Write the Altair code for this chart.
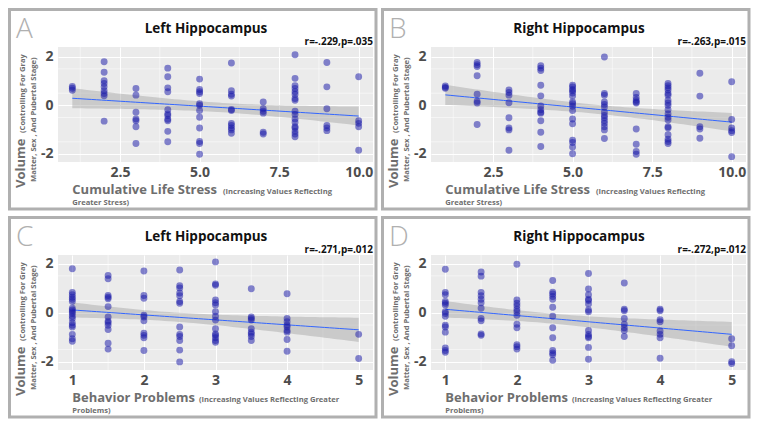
import altair as alt
import numpy as np
import pandas as pd

# ---------------- data ----------------
STRESS_X = [1, 2, 3, 4, 5, 6, 7, 8, 9, 10]
BEHAV_X = [1, 1.5, 2, 2.5, 3, 3.5, 4, 5]

A_VALUES = [
    [0.78, 0.70, 0.62],
    [1.79, 1.36, 1.01, 0.90, 0.76, 0.60, 0.49, 0.39, -0.65],
    [0.69, 0.42, -0.28, -0.56, -0.63, -0.88, -1.57],
    [1.53, 1.18, 0.72, 0.56, -0.18, -0.35, -0.42, -0.57, -0.63, -1.07, -1.50],
    [1.08, 0.65, 0.56, 0.49, 0.07, 0.00, -0.21, -0.49, -0.93, -1.49, -1.57, -2.01],
    [1.74, 0.60, 0.46, 0.38, -0.17, -0.21, -0.74, -0.83, -0.93, -1.01, -1.15],
    [0.14, -0.14, -0.24, -0.32, -1.11, -1.18],
    [2.08, 1.11, 0.81, 0.69, 0.56, 0.46, 0.28, 0.21, -0.24, -0.37, -0.56, -0.69, -0.88, -0.93, -1.07, -1.18, -1.29],
    [1.76, 0.76, -0.14, -0.83, -0.93, -1.04],
    [1.18, -0.63, -0.74, -0.88, -1.85],
]
B_VALUES = [
    [0.80, 0.74, 0.70],
    [1.76, 1.67, 1.60, 1.22, 0.46, 0.17, 0.10, -0.79],
    [0.63, 0.53, 0.42, 0.11, -0.51, -0.93, -1.01, -1.85],
    [1.63, 1.53, 1.43, 0.83, 0.39, -0.03, -0.18, -0.28, -0.32, -0.63, -1.11, -1.69],
    [0.83, 0.76, 0.65, 0.60, 0.51, 0.38, 0.14, 0.07, -0.04, -0.21, -0.56, -0.76, -1.43, -1.53, -1.71, -1.99],
    [1.99, 0.49, 0.42, 0.14, 0.04, -0.07, -0.28, -0.42, -0.51, -0.63, -0.74, -0.88, -1.01, -1.36],
    [0.49, 0.32, 0.21, 0.14, 0.10, -0.97, -1.60, -1.90, -2.01],
    [0.90, 0.81, 0.72, 0.63, 0.49, 0.42, 0.21, 0.10, 0.00, -0.18, -0.35, -0.49, -0.60, -0.88, -0.93, -1.21, -1.39, -1.49, -1.57],
    [1.32, 0.38, -0.88, -0.97, -1.35],
    [0.97, -0.58, -0.93, -1.04, -1.12, -2.11],
]
C_VALUES = [
    [1.79, 0.83, 0.73, 0.63, 0.55, 0.46, 0.18, 0.11, 0.04, -0.03, -0.14, -0.23, -0.41, -0.51, -0.58, -0.88, -1.06, -1.16],
    [1.52, 1.38, 0.70, 0.63, 0.57, 0.25, -0.17, -0.34, -0.41, -0.51, -0.68, -1.24, -1.48],
    [1.70, 0.70, 0.59, -0.10, -0.17, -0.33, -0.83, -0.92, -1.02, -1.54],
    [1.74, 1.10, 1.01, 0.80, 0.69, 0.46, 0.39, -0.58, -0.88, -0.97, -1.13, -1.52, -2.00],
    [2.07, 1.17, 1.12, 0.52, 0.41, 0.32, 0.04, -0.14, -0.30, -0.65, -0.86, -0.92, -1.02, -1.13, -1.20],
    [0.98, -0.17, -0.23, -0.30, -0.65, -0.79, -0.86, -0.97, -1.13],
    [0.77, -0.23, -0.37, -0.51, -0.58, -0.72, -0.79, -1.09, -1.57],
    [-0.88, -1.86],
]
D_VALUES = [
    [1.77, 0.83, 0.73, 0.46, 0.39, 0.32, 0.04, -0.03, -0.14, -0.51, -0.58, -0.79, -1.43, -1.54, -1.61],
    [1.66, 1.49, 0.83, 0.69, 0.55, 0.41, 0.18, -0.23, -0.33, -0.86, -0.92],
    [1.97, 0.52, 0.39, 0.28, 0.14, 0.04, -0.10, -0.47, -0.61, -1.30, -1.38, -1.48],
    [1.31, 0.84, 0.76, 0.66, 0.55, 0.22, -0.14, -0.61, -1.02, -1.54, -1.64, -1.71, -1.93],
    [1.60, 0.97, 0.73, 0.55, 0.50, 0.36, 0.11, 0.04, -0.72, -0.88, -0.97, -1.02, -1.41, -1.89],
    [1.21, 0.14, 0.08, -0.23, -0.47, -0.61, -0.72, -0.97],
    [0.14, 0.08, -0.28, -0.37, -0.74, -0.88, -1.02, -1.85],
    [-1.06, -1.34, -1.99, -2.07],
]

LETTERS = ["A", "B", "C", "D"]
TITLES = ["Left Hippocampus", "Right Hippocampus", "Left Hippocampus", "Right Hippocampus"]
STATS = ["r=-.229,p=.035", "r=-.263,p=.015", "r=-.271,p=.012", "r=-.272,p=.012"]

STRESS_TICKS = [2.5, 5.0, 7.5, 10.0]
STRESS_MINOR = [1.25, 3.75, 6.25, 8.75]
BEHAV_TICKS = [1, 2, 3, 4, 5]
BEHAV_MINOR = [1.5, 2.5, 3.5, 4.5]
Y_TICKS = [-2, -1, 0, 1, 2]
Y_MINOR = [-1.5, -0.5, 0.5, 1.5]

Y_TITLE_BIG = "Volume"
Y_TITLE_SMALL_1 = "(Controlling For Gray"
Y_TITLE_SMALL_2 = "Matter, Sex , And Pubertal Stage)"
STRESS_TITLE = ["Cumulative Life Stress", "(Increasing Values Reflecting", "Greater Stress)"]
BEHAV_TITLE = ["Behavior Problems", "(Increasing Values Reflecting Greater", "Problems)"]

FONT = "Open Sans"
W, H = 315, 115
T_CRIT = 1.99


def long_table(cols, vals):
    xs, ys = [], []
    for c, v in zip(cols, vals):
        xs += [c] * len(v)
        ys += v
    return pd.DataFrame({"x": xs, "y": ys})


def lm_band(df):
    x = df["x"].to_numpy(float)
    y = df["y"].to_numpy(float)
    n = len(x)
    b, a = np.polyfit(x, y, 1)
    resid = y - (a + b * x)
    s = np.sqrt((resid ** 2).sum() / (n - 2))
    xbar = x.mean()
    sxx = ((x - xbar) ** 2).sum()
    xg = np.linspace(x.min(), x.max(), 60)
    yh = a + b * xg
    se = s * np.sqrt(1.0 / n + (xg - xbar) ** 2 / sxx)
    return pd.DataFrame({"x": xg, "fit": yh, "lo": yh - T_CRIT * se, "hi": yh + T_CRIT * se})


def text_layer(txt, x, y, size, color, weight="bold", align="left", angle=0):
    kw = dict(font=FONT, fontSize=size, color=color, fontWeight=weight, align=align, baseline="alphabetic")
    if angle:
        kw["angle"] = angle
    return alt.Chart(pd.DataFrame({"t": [txt]})).mark_text(**kw).encode(
        x=alt.value(x), y=alt.value(y), text=alt.Text("t:N"))


def panel(i, cols, vals, xdom, xticks, xminor, xfmt, ydom, xtitle, small_x):
    df = long_table(cols, vals)
    band = lm_band(df)
    xs = alt.Scale(domain=xdom, nice=False, zero=False)
    ys = alt.Scale(domain=ydom, nice=False, zero=False)

    xaxis = alt.Axis(values=xticks, format=xfmt, grid=True, gridColor="white", gridWidth=1.1,
                     domain=False, ticks=False, labelFont=FONT, labelFontSize=14,
                     labelFontWeight="bold", labelColor="#4d4d4d", labelPadding=3, title="")
    yaxis = alt.Axis(values=Y_TICKS, labelExpr="'' + datum.value", grid=True, gridColor="white",
                     gridWidth=1.1, domain=False, ticks=False, labelFont=FONT, labelFontSize=14,
                     labelFontWeight="bold", labelColor="#4d4d4d", labelPadding=5, title="")

    frame = alt.Chart(pd.DataFrame({"t": [0]})).mark_rect(
        fillOpacity=0, stroke="#b0b0b0", strokeWidth=3).encode(
        x=alt.value(-48.5), x2=alt.value(318), y=alt.value(-37.5), y2=alt.value(162))

    vminor = alt.Chart(pd.DataFrame({"v": xminor})).mark_rule(color="white", strokeWidth=0.5).encode(
        x=alt.X("v:Q", scale=xs, title=""))
    hminor = alt.Chart(pd.DataFrame({"v": Y_MINOR})).mark_rule(color="white", strokeWidth=0.5).encode(
        y=alt.Y("v:Q", scale=ys, title=""))

    area = alt.Chart(band).mark_area(color="#999999", opacity=0.4).encode(
        x=alt.X("x:Q", scale=xs, title=""), y=alt.Y("lo:Q", scale=ys, title=""), y2="hi:Q")
    line = alt.Chart(band).mark_line(color="#3366ff", strokeWidth=1).encode(
        x=alt.X("x:Q", scale=xs, title=""), y=alt.Y("fit:Q", scale=ys, title=""))
    pts = alt.Chart(df).mark_circle(size=48, color="#1a1aa8", opacity=0.52).encode(
        x=alt.X("x:Q", scale=xs, axis=xaxis, title=""),
        y=alt.Y("y:Q", scale=ys, axis=yaxis, title=""))

    gray = "#6e6e6e"
    texts = [
        text_layer(LETTERS[i], -42, -9, 28, "#b0b0b0", weight=300),
        text_layer(TITLES[i], 148, -14, 13.5, "#111111", align="center"),
        text_layer(STATS[i], W, -2.5, 10, "#111111", align="right"),
        text_layer(Y_TITLE_BIG, -32.7, 141, 13, gray, angle=270),
        text_layer(Y_TITLE_SMALL_1, -32.7, 86, 7.6, gray, angle=270),
        text_layer(Y_TITLE_SMALL_2, -22, 135, 7.6, gray, angle=270),
        text_layer(xtitle[0], 14.3, 146.5, 13, gray),
        text_layer(xtitle[1], small_x, 146.5, 7.6, gray),
        text_layer(xtitle[2], 14.3, 157.5, 7.6, gray),
    ]
    return alt.layer(vminor, hminor, area, line, pts, *texts, frame).properties(width=W, height=H)


A = panel(0, STRESS_X, A_VALUES, [0.55, 10.45], STRESS_TICKS, STRESS_MINOR, ".1f", [-2.33, 2.4], STRESS_TITLE, 165)
B = panel(1, STRESS_X, B_VALUES, [0.55, 10.45], STRESS_TICKS, STRESS_MINOR, ".1f", [-2.33, 2.4], STRESS_TITLE, 165)
C = panel(2, BEHAV_X, C_VALUES, [0.8, 5.2], BEHAV_TICKS, BEHAV_MINOR, "d", [-2.33, 2.35], BEHAV_TITLE, 141)
D = panel(3, BEHAV_X, D_VALUES, [0.8, 5.2], BEHAV_TICKS, BEHAV_MINOR, "d", [-2.33, 2.35], BEHAV_TITLE, 141)

chart = alt.vconcat(
    alt.hconcat(A, B, spacing=3),
    alt.hconcat(C, D, spacing=3),
    spacing=5,
).properties(padding=0, background="white").configure_view(fill="#ebebeb", strokeWidth=0)

chart.save("out.html", embed_options={"renderer": "svg", "actions": False})
